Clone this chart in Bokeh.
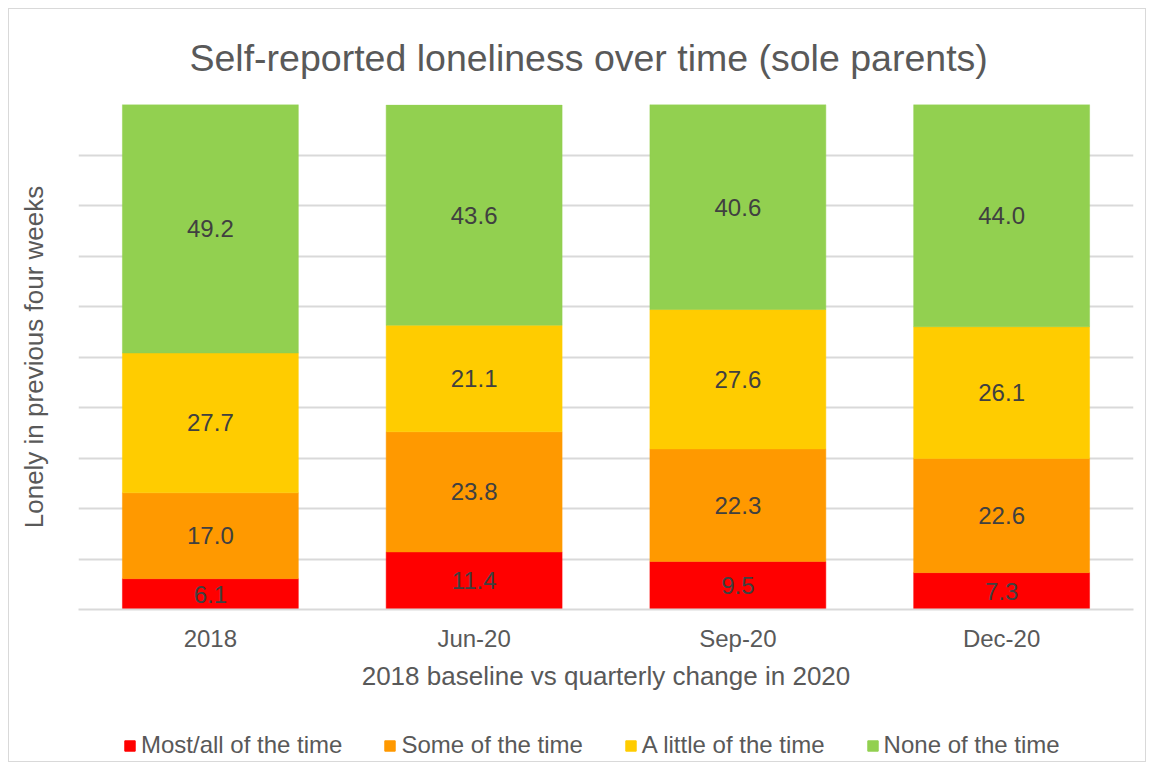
from bokeh.plotting import figure
from bokeh.layouts import column
from bokeh.models import ColumnDataSource, Legend, LegendItem, FixedTicker, Range1d, Title
from bokeh.embed import file_html
from bokeh.resources import INLINE
from bokeh.core.properties import value

categories = ["2018", "Jun-20", "Sep-20", "Dec-20"]
series_names = ["Most/all of the time", "Some of the time", "A little of the time", "None of the time"]
most_all = [6.1, 11.4, 9.5, 7.3]
some = [17.0, 23.8, 22.3, 22.6]
a_little = [27.7, 21.1, 27.6, 26.1]
none_time = [49.2, 43.6, 40.6, 44.0]
colors = ["#FF0000", "#FF9900", "#FFCC00", "#92D050"]
y_ticks = [0, 10, 20, 30, 40, 50, 60, 70, 80, 90, 100]

FONT = "Liberation Sans"
TXT = "#595959"

keys = ["most_all", "some", "a_little", "none_time"]
data = {"cat": categories, "most_all": most_all, "some": some,
        "a_little": a_little, "none_time": none_time}
source = ColumnDataSource(data)

W = 1136
H_MAIN = 690
H_LEG = 62

p = figure(x_range=categories, y_range=Range1d(0, 100), width=W, height=H_MAIN,
           output_backend="svg", toolbar_location=None,
           min_border_left=69, min_border_right=12, min_border_top=95, min_border_bottom=90)
p.outline_line_color = None

renderers = p.vbar_stack(keys, x="cat", width=0.667, color=colors, line_color=colors,
                         line_width=0.5, source=source)

# data labels
label_x, label_y, label_t = [], [], []
for i, c in enumerate(categories):
    bottom = 0.0
    for arr in (most_all, some, a_little, none_time):
        v = arr[i]
        label_x.append(c)
        label_y.append(bottom + v / 2.0)
        label_t.append(f"{v:.1f}")
        bottom += v
lsrc = ColumnDataSource(dict(x=label_x, y=label_y, t=label_t))
p.text(x="x", y="y", text="t", source=lsrc, text_align="center", text_baseline="middle",
       text_font=value(FONT), text_font_size="24px", text_color="#404040")

# title
p.title = Title(text="Self-reported loneliness over time (sole parents)", align="left",
                text_font=FONT, text_font_size="37.5px", text_font_style="normal",
                text_color=TXT, standoff=51, offset=111)

# axes
p.xgrid.grid_line_color = None
p.ygrid.ticker = FixedTicker(ticks=y_ticks)
p.ygrid.grid_line_color = "#d9d9d9"
p.ygrid.grid_line_width = 2

p.xaxis.axis_line_color = "#d9d9d9"
p.xaxis.axis_line_width = 2
p.xaxis.major_tick_line_color = None
p.xaxis.minor_tick_line_color = None
p.xaxis.major_label_text_font = FONT
p.xaxis.major_label_text_font_size = "24px"
p.xaxis.major_label_text_color = TXT
p.xaxis.major_label_standoff = 9
p.xaxis.axis_label = "2018 baseline vs quarterly change in 2020"
p.xaxis.axis_label_text_font = FONT
p.xaxis.axis_label_text_font_size = "26px"
p.xaxis.axis_label_text_font_style = "normal"
p.xaxis.axis_label_text_color = TXT
p.xaxis.axis_label_standoff = 6

p.yaxis.ticker = FixedTicker(ticks=[])
p.yaxis.major_tick_line_color = None
p.yaxis.minor_tick_line_color = None
p.yaxis.axis_line_color = None
p.yaxis.axis_label = "Lonely in previous four weeks"
p.yaxis.axis_label_text_font = FONT
p.yaxis.axis_label_text_font_size = "26px"
p.yaxis.axis_label_text_font_style = "normal"
p.yaxis.axis_label_text_color = TXT
p.yaxis.axis_label_standoff = 30

# legend in its own strip below the chart (bars kept out of view)
lf = figure(width=W, height=H_LEG, x_range=categories, y_range=Range1d(1000, 1001),
            output_backend="svg", toolbar_location=None,
            min_border_left=0, min_border_right=0, min_border_top=0, min_border_bottom=0)
lf.axis.visible = False
lf.grid.visible = False
lf.outline_line_color = None
leg_renderers = lf.vbar_stack(keys, x="cat", width=0.667, color=colors, line_color=colors,
                              source=source)
legend = Legend(items=[LegendItem(label=n, renderers=[r]) for n, r in zip(series_names, leg_renderers)],
                orientation="horizontal", location=(45, 2),
                label_text_font=FONT, label_text_font_size="24px", label_text_color=TXT,
                glyph_width=13, glyph_height=13, label_standoff=5, spacing=41,
                border_line_color=None, background_fill_alpha=0, padding=0, margin=0)
lf.add_layout(legend, "center")

layout = column(p, lf, spacing=0)
layout.styles = {"border": "1px solid #d9d9d9", "margin-left": "8px", "margin-top": "8px"}

open("out.html", "w").write(file_html(layout, INLINE))
